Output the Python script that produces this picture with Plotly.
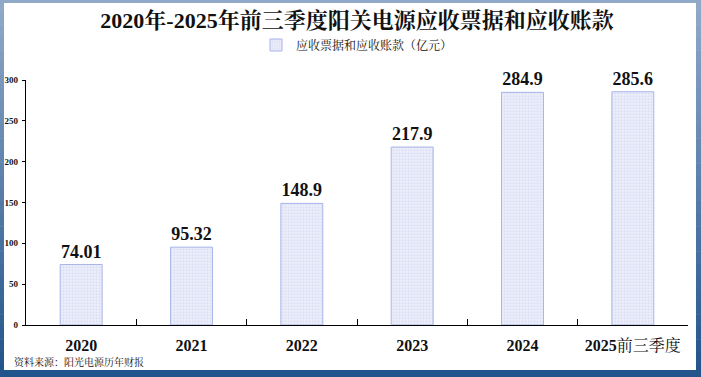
import plotly.graph_objects as go

categories = ["2020", "2021", "2022", "2023", "2024", "2025前三季度"]
category_labels = ["<b>2020</b>", "<b>2021</b>", "<b>2022</b>", "<b>2023</b>", "<b>2024</b>", "<b>2025</b>前三季度"]
values = [74.01, 95.32, 148.9, 217.9, 284.9, 285.6]
value_labels = ["74.01", "95.32", "148.9", "217.9", "284.9", "285.6"]
y_ticks = [0, 50, 100, 150, 200, 250, 300]
series_name = "应收票据和应收账款（亿元）"
title_text = "2020年-2025年前三季度阳关电源应收票据和应收账款"
source_text = "资料来源：阳光电源历年财报"

W, H = 701, 377
L, R, T, B = 26, 13, 80, 52
pw, ph = W - L - R, H - T - B

def px_x(x):
    return (x - L) / pw

def px_y(y):
    return (H - B - y) / ph

SERIF = "Liberation Serif, Noto Serif CJK SC, Noto Sans CJK SC, serif"

fig = go.Figure()
fig.add_trace(go.Bar(
    x=categories, y=values, name=series_name,
    width=0.38,
    text=value_labels, textposition="outside",
    textfont=dict(family=SERIF, size=18, color="#111111", weight="bold"),
    cliponaxis=False,
    marker=dict(color="#eceffa",
                line=dict(color="#a7b4e8", width=1),
                pattern=dict(shape=".", fgcolor="#c9d0f0", bgcolor="#eef0fb", size=3, solidity=0.45)),
    showlegend=True,
))

shapes = []
n = 30
top_c = (0x90, 0xa9, 0xc9)
bot_c = (0x22, 0x55, 0x8b)
for i in range(n):
    f = i / (n - 1)
    c = tuple(int(top_c[k] + (bot_c[k] - top_c[k]) * f) for k in range(3))
    y0 = i * H / n
    y1 = (i + 1) * H / n + 0.5
    shapes.append(dict(type="rect", xref="paper", yref="paper", layer="below",
                       x0=px_x(0), x1=px_x(W), y0=px_y(y1), y1=px_y(y0),
                       fillcolor="rgb(%d,%d,%d)" % c, line=dict(width=0)))
shapes.append(dict(type="rect", xref="paper", yref="paper", layer="below",
                   x0=px_x(4), x1=px_x(696), y0=px_y(370), y1=px_y(3),
                   fillcolor="white", line=dict(width=0)))
fig.update_layout(shapes=shapes)

fig.update_layout(
    width=W, height=H,
    margin=dict(l=L, r=R, t=T, b=B, pad=0, autoexpand=False),
    paper_bgcolor="white", plot_bgcolor="rgba(0,0,0,0)",
    title=dict(text=title_text, x=0.5, xanchor="center", xref="paper",
               y=1 - 20 / H, yanchor="middle", yref="container",
               font=dict(family=SERIF, size=22, color="#111111", weight="bold")),
    legend=dict(orientation="h", x=0.5, xanchor="center", y=px_y(45), yanchor="middle",
                font=dict(family=SERIF, size=12, color="#111111"),
                bgcolor="rgba(0,0,0,0)", itemwidth=30),
    bargap=0.62,
    xaxis=dict(type="category", tickson="boundaries", ticks="inside", ticklen=6,
               tickmode="array", tickvals=categories, ticktext=category_labels,
               tickcolor="black", tickwidth=1, showline=True, linecolor="black", linewidth=1.3,
               showgrid=False, automargin=False,
               tickfont=dict(family=SERIF, size=16, color="#111111"),
               ticklabelstandoff=6, fixedrange=True),
    yaxis=dict(range=[0, 300], tickvals=y_ticks, ticks="outside", ticklen=3,
               tickcolor="black", showline=True, linecolor="black", linewidth=1.3,
               showgrid=False, zeroline=False, automargin=False,
               tickfont=dict(family=SERIF, size=9, color="#111111", weight="bold"),
               ticklabelstandoff=2),
)

fig.add_annotation(text=source_text, xref="paper", yref="paper",
                   x=px_x(12), y=px_y(362), xanchor="left", yanchor="middle",
                   showarrow=False, font=dict(family=SERIF, size=10, color="#111111"))

fig.write_html("out.html", config={"displayModeBar": False},
               post_script="document.body.style.margin='0px';document.body.style.overflow='hidden';")
